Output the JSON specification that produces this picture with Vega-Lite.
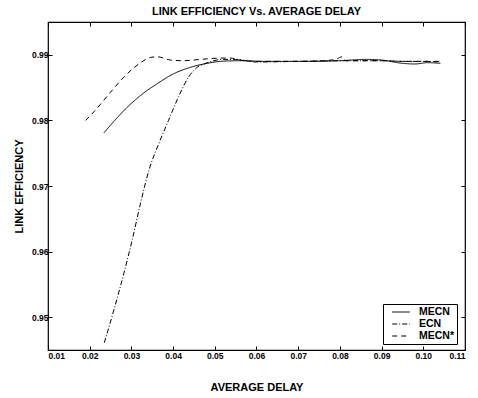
{
  "$schema": "https://vega.github.io/schema/vega-lite/v6.json",
  "autosize": {"type": "none"},
  "width": 417,
  "height": 328,
  "padding": {"left": 48, "top": 22, "right": 13, "bottom": 48},
  "background": "white",
  "title": {"text": "LINK EFFICIENCY Vs. AVERAGE DELAY", "font": "Liberation Sans", "fontSize": 11, "fontWeight": "bold", "color": "black", "offset": 5},
  "config": {
    "view": {"stroke": "black", "strokeWidth": 1.2},
    "axis": {"grid": false, "domain": false, "tickColor": "black", "tickSize": -4, "labelFont": "Liberation Sans", "labelFontWeight": "bold", "labelFontSize": 8.5, "labelColor": "black", "titleFont": "Liberation Sans", "titleFontWeight": "bold", "titleFontSize": 11, "titleColor": "black"}
  },
  "datasets": {
    "d": [
      {"s": "MECN", "x": 0.0234, "y": 0.9781},
      {"s": "MECN", "x": 0.0260, "y": 0.9800},
      {"s": "MECN", "x": 0.0282, "y": 0.9815},
      {"s": "MECN", "x": 0.0322, "y": 0.9838},
      {"s": "MECN", "x": 0.0362, "y": 0.9856},
      {"s": "MECN", "x": 0.0401, "y": 0.9871},
      {"s": "MECN", "x": 0.0442, "y": 0.9881},
      {"s": "MECN", "x": 0.0482, "y": 0.9887},
      {"s": "MECN", "x": 0.0513, "y": 0.9890},
      {"s": "MECN", "x": 0.0560, "y": 0.9891},
      {"s": "MECN", "x": 0.0620, "y": 0.9890},
      {"s": "MECN", "x": 0.0680, "y": 0.9890},
      {"s": "MECN", "x": 0.0740, "y": 0.9890},
      {"s": "MECN", "x": 0.0800, "y": 0.9891},
      {"s": "MECN", "x": 0.0865, "y": 0.9893},
      {"s": "MECN", "x": 0.0900, "y": 0.9892},
      {"s": "MECN", "x": 0.0950, "y": 0.9887},
      {"s": "MECN", "x": 0.0980, "y": 0.9886},
      {"s": "MECN", "x": 0.1010, "y": 0.9888},
      {"s": "MECN", "x": 0.1041, "y": 0.9887},
      {"s": "ECN", "x": 0.0235, "y": 0.9461},
      {"s": "ECN", "x": 0.0258, "y": 0.9511},
      {"s": "ECN", "x": 0.0282, "y": 0.9567},
      {"s": "ECN", "x": 0.0302, "y": 0.9618},
      {"s": "ECN", "x": 0.0322, "y": 0.9674},
      {"s": "ECN", "x": 0.0342, "y": 0.9724},
      {"s": "ECN", "x": 0.0366, "y": 0.9765},
      {"s": "ECN", "x": 0.0389, "y": 0.9800},
      {"s": "ECN", "x": 0.0413, "y": 0.9836},
      {"s": "ECN", "x": 0.0437, "y": 0.9866},
      {"s": "ECN", "x": 0.0458, "y": 0.9881},
      {"s": "ECN", "x": 0.0478, "y": 0.9887},
      {"s": "ECN", "x": 0.0520, "y": 0.9893},
      {"s": "ECN", "x": 0.0550, "y": 0.9893},
      {"s": "ECN", "x": 0.0600, "y": 0.9889},
      {"s": "ECN", "x": 0.0700, "y": 0.9890},
      {"s": "ECN", "x": 0.0800, "y": 0.9891},
      {"s": "ECN", "x": 0.0900, "y": 0.9891},
      {"s": "ECN", "x": 0.0950, "y": 0.9890},
      {"s": "ECN", "x": 0.1000, "y": 0.9890},
      {"s": "ECN", "x": 0.1040, "y": 0.9889},
      {"s": "MECN*", "x": 0.0190, "y": 0.9800},
      {"s": "MECN*", "x": 0.0210, "y": 0.9813},
      {"s": "MECN*", "x": 0.0250, "y": 0.9843},
      {"s": "MECN*", "x": 0.0282, "y": 0.9866},
      {"s": "MECN*", "x": 0.0322, "y": 0.9888},
      {"s": "MECN*", "x": 0.0346, "y": 0.9896},
      {"s": "MECN*", "x": 0.0362, "y": 0.9897},
      {"s": "MECN*", "x": 0.0394, "y": 0.9892},
      {"s": "MECN*", "x": 0.0425, "y": 0.9891},
      {"s": "MECN*", "x": 0.0466, "y": 0.9893},
      {"s": "MECN*", "x": 0.0513, "y": 0.9895},
      {"s": "MECN*", "x": 0.0537, "y": 0.9895},
      {"s": "MECN*", "x": 0.0561, "y": 0.9892},
      {"s": "MECN*", "x": 0.0600, "y": 0.9890},
      {"s": "MECN*", "x": 0.0700, "y": 0.9890},
      {"s": "MECN*", "x": 0.0760, "y": 0.9891},
      {"s": "MECN*", "x": 0.0790, "y": 0.9893},
      {"s": "MECN*", "x": 0.0805, "y": 0.9897},
      {"s": "MECN*", "x": 0.0815, "y": 0.9891},
      {"s": "MECN*", "x": 0.0860, "y": 0.9891},
      {"s": "MECN*", "x": 0.0900, "y": 0.9891},
      {"s": "MECN*", "x": 0.0950, "y": 0.9890},
      {"s": "MECN*", "x": 0.1000, "y": 0.9890},
      {"s": "MECN*", "x": 0.1040, "y": 0.9890}
    ]
  },
  "data": {"name": "d"},
  "layer": [
    {
      "mark": {"type": "line", "interpolate": "monotone", "color": "black", "strokeWidth": 1, "clip": true},
      "encoding": {
        "x": {"field": "x", "type": "quantitative", "scale": {"domain": [0.01, 0.11], "nice": false, "zero": false},
          "axis": {"orient": "bottom", "title": "AVERAGE DELAY", "values": [0.01, 0.02, 0.03, 0.04, 0.05, 0.06, 0.07, 0.08, 0.09, 0.1, 0.11], "labelPadding": 5, "titlePadding": 22}},
        "y": {"field": "y", "type": "quantitative", "scale": {"domain": [0.945, 0.995], "nice": false, "zero": false},
          "axis": {"orient": "left", "title": "LINK EFFICIENCY", "values": [0.95, 0.96, 0.97, 0.98, 0.99], "labelPadding": 4, "titlePadding": 7}},
        "strokeDash": {"field": "s", "type": "nominal",
          "scale": {"domain": ["MECN", "ECN", "MECN*"], "range": [[1, 0], [5, 2, 1, 2], [5, 4]]},
          "legend": {"title": null, "orient": "none", "legendX": 335, "legendY": 282, "symbolType": "M-1.6,0H1.6", "symbolSize": 121, "symbolOffset": 10, "symbolStrokeColor": "black", "symbolStrokeWidth": 1, "labelFont": "Liberation Sans", "labelFontWeight": "bold", "labelFontSize": 10.5, "labelColor": "black", "strokeColor": "black", "fillColor": "white", "padding": 2, "rowPadding": 0, "labelOffset": 12}}
      }
    },
    {
      "mark": {"type": "line", "opacity": 0},
      "encoding": {
        "x": {"field": "x", "type": "quantitative", "axis": {"orient": "top", "title": null, "labels": false, "values": [0.01, 0.02, 0.03, 0.04, 0.05, 0.06, 0.07, 0.08, 0.09, 0.1, 0.11]}},
        "y": {"field": "y", "type": "quantitative", "axis": {"orient": "right", "title": null, "labels": false, "values": [0.95, 0.96, 0.97, 0.98, 0.99]}},
        "detail": {"field": "s"}
      }
    }
  ],
  "resolve": {"axis": {"x": "independent", "y": "independent"}}
}
